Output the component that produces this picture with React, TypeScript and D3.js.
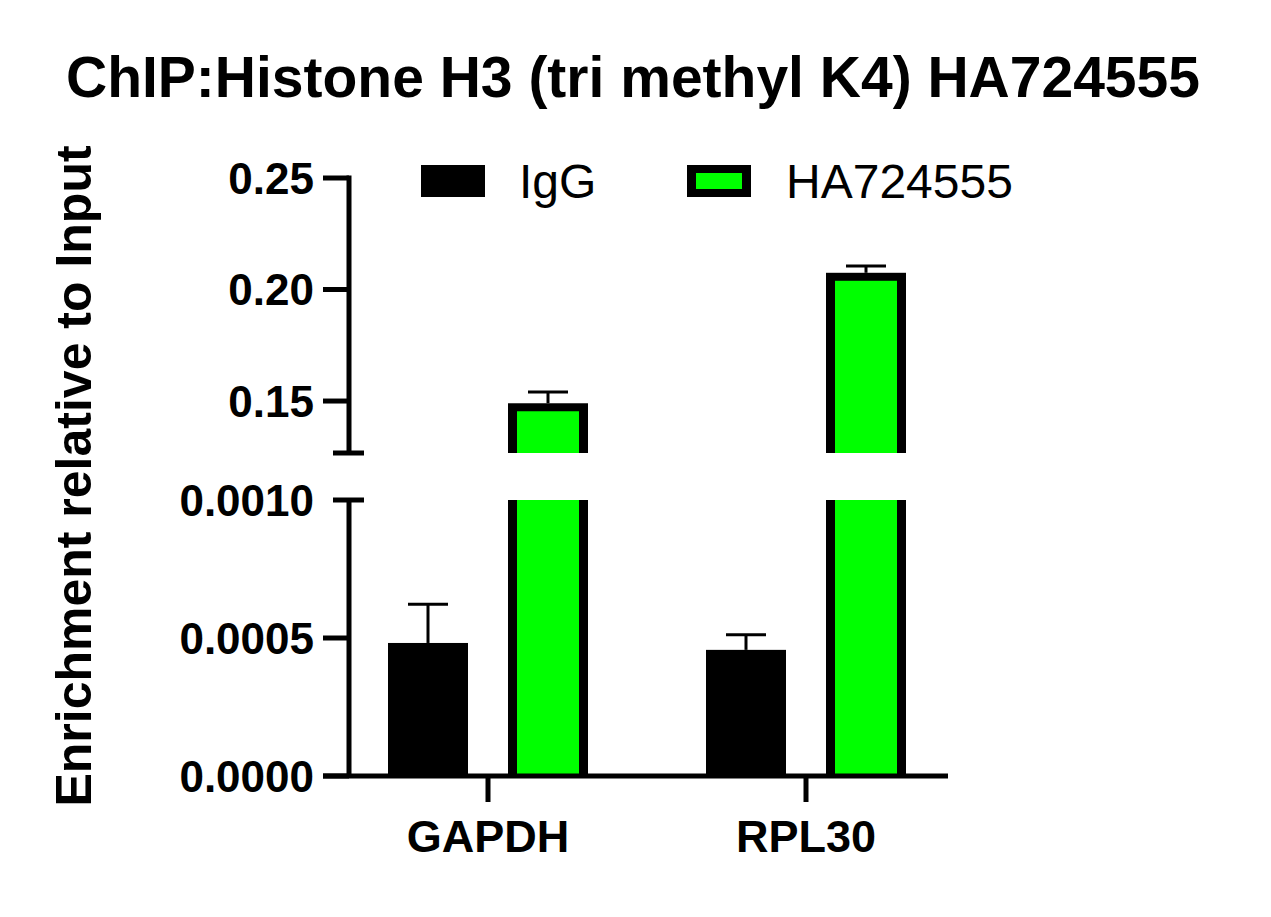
import React from "react";
import * as d3 from "d3";

const categories = ["GAPDH", "RPL30"];
const seriesNames = ["IgG", "HA724555"];
const igGMeans = [0.000482, 0.000457];
const igGSD = [0.00014, 0.000055];
const haMeans = [0.149, 0.2075];
const haSD = [0.005, 0.003];
const upperTicks = [0.15, 0.2, 0.25];
const lowerTicks = [0, 0.0005, 0.001];
const upperTickLabels = ["0.15", "0.20", "0.25"];
const lowerTickLabels = ["0.0000", "0.0005", "0.0010"];

const W = 1271;
const H = 917;
const FONT = "'Liberation Sans', Arial, Helvetica, sans-serif";
const GREEN = "#00ff00";

export default function App() {
  const axisX = 349;
  const yUpper = d3.scaleLinear().domain([0.1267, 0.25]).range([453, 178]);
  const yLower = d3.scaleLinear().domain([0, 0.001]).range([776, 500]);
  const xGroup = d3.scalePoint<string>().domain(categories).range([488, 806]);
  const xSub = d3.scaleBand<string>().domain(seriesNames).range([-100, 100]).paddingInner(1 / 3);
  const bw = xSub.bandwidth();
  const border = 9;
  const upperBottom = yUpper.range()[0];
  const upperTop = yUpper.range()[1];
  const lowerBottom = yLower.range()[0];
  const lowerTop = yLower.range()[1];
  const capW = 40;

  return (
    <svg
      width={W}
      height={H}
      viewBox={`0 0 ${W} ${H}`}
      style={{ position: "absolute", left: 0, top: 0, background: "#fff" }}
      fontFamily={FONT}
    >
      <rect x={0} y={0} width={W} height={H} fill="#fff" />
      {/* Title */}
      <text x={633} y={97} textAnchor="middle" fontSize={57} fontWeight="bold" fill="#000">
        ChIP:Histone H3 (tri methyl K4) HA724555
      </text>

      {/* Y axis title */}
      <text
        transform={`translate(91, 476) rotate(-90)`}
        textAnchor="middle"
        fontSize={50}
        fontWeight="bold"
        fill="#000"
      >
        Enrichment relative to Input
      </text>

      {/* Bars */}
      {categories.map((c, i) => {
        const gx = xGroup(c)!;
        const xI = gx + xSub("IgG")!;
        const xH = gx + xSub("HA724555")!;
        const igTop = yLower(igGMeans[i]);
        const igErr = yLower(igGMeans[i] + igGSD[i]);
        const haTop = yUpper(haMeans[i]);
        const haErr = yUpper(haMeans[i] + haSD[i]);
        return (
          <g key={c}>
            {/* IgG bar */}
            <line x1={xI + bw / 2} x2={xI + bw / 2} y1={igTop} y2={igErr} stroke="#000" strokeWidth={3} />
            <line x1={xI + bw / 2 - capW / 2} x2={xI + bw / 2 + capW / 2} y1={igErr} y2={igErr} stroke="#000" strokeWidth={3} />
            <rect x={xI} y={igTop} width={bw} height={lowerBottom - igTop} fill="#000" />
            {/* HA bar lower segment */}
            <rect x={xH} y={lowerTop} width={bw} height={lowerBottom - lowerTop} fill="#000" />
            <rect x={xH + border} y={lowerTop} width={bw - 2 * border} height={lowerBottom - lowerTop} fill={GREEN} />
            {/* HA bar upper segment */}
            <line x1={xH + bw / 2} x2={xH + bw / 2} y1={haTop} y2={haErr} stroke="#000" strokeWidth={3} />
            <line x1={xH + bw / 2 - capW / 2} x2={xH + bw / 2 + capW / 2} y1={haErr} y2={haErr} stroke="#000" strokeWidth={3} />
            <rect x={xH} y={haTop} width={bw} height={upperBottom - haTop} fill="#000" />
            <rect x={xH + border} y={haTop + 8} width={bw - 2 * border} height={upperBottom - haTop - 8} fill={GREEN} />
          </g>
        );
      })}

      {/* Upper Y axis */}
      <line x1={axisX} x2={axisX} y1={upperTop - 2.5} y2={upperBottom} stroke="#000" strokeWidth={5} />
      <line x1={333} x2={364} y1={upperBottom} y2={upperBottom} stroke="#000" strokeWidth={5} />
      {upperTicks.map((t, i) => (
        <g key={"u" + t}>
          <line x1={323} x2={axisX} y1={yUpper(t)} y2={yUpper(t)} stroke="#000" strokeWidth={5} />
          <text x={314} y={yUpper(t) + 15.5} textAnchor="end" fontSize={44} fontWeight="bold" fill="#000">
            {upperTickLabels[i]}
          </text>
        </g>
      ))}

      {/* Lower Y axis */}
      <line x1={axisX} x2={axisX} y1={lowerTop} y2={lowerBottom} stroke="#000" strokeWidth={5} />
      <line x1={333} x2={364} y1={lowerTop} y2={lowerTop} stroke="#000" strokeWidth={5} />
      {lowerTicks.map((t, i) => (
        <g key={"l" + t}>
          {t !== 0.001 && (
            <line x1={323} x2={axisX} y1={yLower(t)} y2={yLower(t)} stroke="#000" strokeWidth={5} />
          )}
          <text x={314} y={yLower(t) + 15.5} textAnchor="end" fontSize={44} fontWeight="bold" fill="#000">
            {lowerTickLabels[i]}
          </text>
        </g>
      ))}

      {/* X axis */}
      <line x1={323} x2={948} y1={lowerBottom} y2={lowerBottom} stroke="#000" strokeWidth={5} />
      {categories.map((c) => (
        <g key={"x" + c}>
          <line x1={xGroup(c)!} x2={xGroup(c)!} y1={lowerBottom} y2={802} stroke="#000" strokeWidth={5} />
          <text x={xGroup(c)!} y={852} textAnchor="middle" fontSize={45} fontWeight="bold" fill="#000">
            {c}
          </text>
        </g>
      ))}

      {/* Legend */}
      <rect x={421} y={165} width={64} height={32} fill="#000" />
      <text x={519} y={198} fontSize={48} fill="#000">
        {seriesNames[0]}
      </text>
      <rect x={687} y={165} width={64} height={32} fill="#000" />
      <rect x={696} y={173} width={46} height={16} fill={GREEN} />
      <text x={786} y={198} fontSize={48} fill="#000">
        {seriesNames[1]}
      </text>
    </svg>
  );
}
